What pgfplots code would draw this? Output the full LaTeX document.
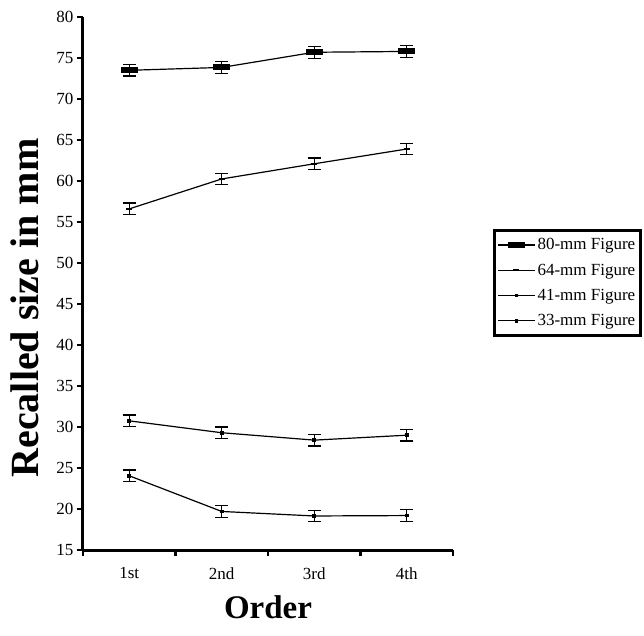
\documentclass[border=0pt]{standalone}
\usepackage{fontspec}
\setmainfont{Liberation Serif}
\usepackage{pgfplots}
\pgfplotsset{compat=1.18}
\begin{document}
\begin{tikzpicture}
\useasboundingbox (-83pt,-85pt) rectangle (561pt,550pt);
\begin{axis}[
  at={(0pt,0pt)}, anchor=south west,
  scale only axis, width=370pt, height=533pt,
  xmin=0.5, xmax=4.5, ymin=15, ymax=80,
  axis x line*=bottom, axis y line*=left,
  axis line style={-, line width=3pt, black},
  ytick={15,20,...,80},
  xtick={0.5,1.5,2.5,3.5,4.5},
  xticklabels={1st,2nd,3rd,4th},
  x tick label as interval,
  tick align=outside, major tick length=6pt,
  tick style={line width=2.5pt, black},
  /pgf/number format/assume math mode=true,
  tick label style={font=\fontsize{17}{20}\selectfont},
  xticklabel style={yshift=-8pt},
  xlabel={\textbf{Order}},
  ylabel={\textbf{Recalled size in mm}},
  xlabel style={font=\fontsize{33}{38}\selectfont, at={(axis description cs:0.5,-0.107)}, anchor=center},
  ylabel style={font=\fontsize{40}{46}\selectfont, at={(axis description cs:-0.157,0.454)}, anchor=center, rotate=0},
  legend style={at={(1.108,0.602)}, anchor=north west, draw=black, line width=2.8pt,
    font=\fontsize{17}{20}\selectfont, row sep=8.5pt, inner sep=3pt, inner ysep=6pt, cells={anchor=west}},
  legend image code/.code={\draw[mark repeat=2,mark phase=2,#1] plot coordinates {(0pt,0pt) (18.5pt,0pt) (37pt,0pt)};},
  every axis plot/.append style={black, line width=1.2pt},
  error bars/error bar style={line width=1.3pt, black, solid},
  error bars/error mark options={rotate=90, mark size=6.5pt, line width=1.3pt, black},
]
\addplot[mark=square*, mark size=2.4pt, mark options={xscale=3.2, solid},
  error bars/.cd, y dir=both, y explicit]
  coordinates {(1,73.5) +- (0,0.7) (2,73.85) +- (0,0.7) (3,75.7) +- (0,0.72) (4,75.8) +- (0,0.72)};
\addlegendentry{80-mm Figure}
\addplot[mark=-, mark size=3pt, mark options={solid, line width=1.5pt},
  error bars/.cd, y dir=both, y explicit]
  coordinates {(1,56.6) +- (0,0.7) (2,60.25) +- (0,0.7) (3,62.1) +- (0,0.7) (4,63.9) +- (0,0.7)};
\addlegendentry{64-mm Figure}
\addplot[mark=square*, mark size=1.3pt, mark options={solid},
  error bars/.cd, y dir=both, y explicit]
  coordinates {(1,30.75) +- (0,0.7) (2,29.3) +- (0,0.7) (3,28.4) +- (0,0.7) (4,29.0) +- (0,0.7)};
\addlegendentry{41-mm Figure}
\addplot[mark=square*, mark size=1.3pt, mark options={solid},
  error bars/.cd, y dir=both, y explicit]
  coordinates {(1,24.05) +- (0,0.7) (2,19.7) +- (0,0.7) (3,19.15) +- (0,0.7) (4,19.2) +- (0,0.7)};
\addlegendentry{33-mm Figure}
\end{axis}
\end{tikzpicture}
\end{document}
